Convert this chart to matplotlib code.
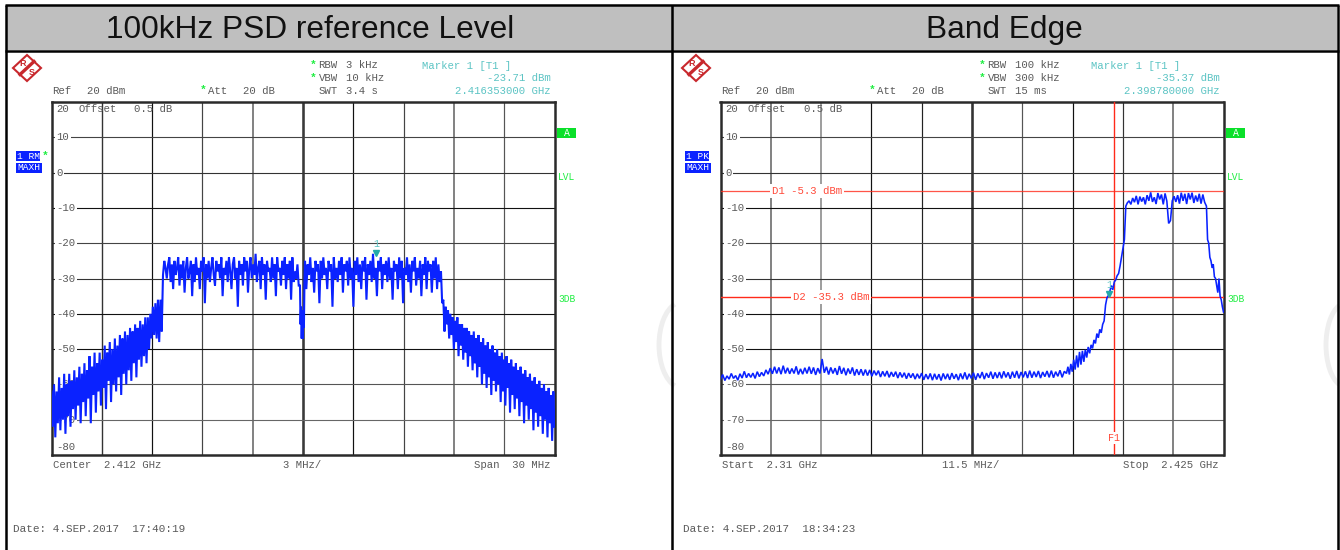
import numpy as np
import matplotlib
matplotlib.use("Agg")
import matplotlib.pyplot as plt
from matplotlib.patches import Arc, Polygon, Rectangle

MONO = ["Liberation Mono", "DejaVu Sans Mono"]
BLUE = "#0a22ff"
RED = "#ff2a1a"
TEAL = "#5cc4c4"
GREEN = "#22ee44"
GREY = "#5a5a5a"
FS = 7.7

# left panel, offset from centre in MHz; each piece alternates peak / trough
psd_bounds = [-15.0, -8.35, -0.18, 0.12, 8.23, 15.0]
psd_low = [
    -62, -72, -60, -75, -62, -71, -58, -73, -61, -70, -57, -74, -60, -69, -57, -72,
    -59, -67, -56, -70, -58, -66, -55, -71, -57, -65, -54, -69, -56, -64, -52, -71,
    -55, -63, -51, -68, -54, -62, -51, -66, -53, -61, -49, -67, -51, -59, -48, -65,
    -50, -60, -47, -62, -49, -58, -46, -63, -47, -57, -45, -60, -46, -56, -44, -59,
    -45, -54, -43, -58, -44, -53, -42, -55, -43, -52, -41, -54, -41, -50, -40, -47,
    -38, -46, -37, -47, -36, -48, -36, -45,
]
psd_band_a = [
    -29, -25, -27, -30, -26, -24, -31, -26, -33, -25, -29, -27,
    -24, -32, -26, -30, -25, -34, -27, -24, -30, -28, -25, -35, -26, -31, -24, -29,
    -27, -33, -25, -28, -24, -37, -26, -30, -25, -31, -27, -24, -29, -32, -25, -28,
    -26, -30, -24, -35, -27, -29, -25, -31, -24, -28, -33, -26, -24, -30, -27, -38,
    -25, -29, -26, -32, -24, -28, -25, -34, -27, -24, -30, -26, -29, -23, -31, -27,
    -25, -33, -24, -29, -26, -36, -25, -28, -27, -31, -24, -30, -26, -35, -24, -28,
    -27, -32, -25, -29, -24, -33, -26, -30, -25, -36, -24, -31, -28, -30, -26, -32,
]
psd_notch = [-32, -43, -38, -47, -41, -47, -39, -44, -31]
psd_band_b = [
    -25, -33, -26, -29, -24, -31, -27, -34, -25, -28, -26, -37, -25, -30, -24, -29,
    -27, -33, -25, -28, -26, -38, -24, -30, -27, -31, -25, -29, -24, -34, -26, -28,
    -25, -32, -24, -30, -27, -38, -25, -29, -24, -31, -26, -33, -25, -28, -24, -36,
    -26, -29, -25, -31, -23, -30, -27, -35, -25, -28, -24, -33, -26, -29, -25, -31,
    -24, -30, -27, -36, -25, -28, -26, -33, -24, -30, -25, -37, -27, -29, -24, -31,
    -26, -34, -25, -28, -24, -32, -27, -30, -25, -35, -26, -29, -24, -33, -25, -28,
    -26, -34, -25, -30, -24, -33, -26, -31,
]
psd_high = [
    -28, -37, -36, -45, -38, -43, -39, -47, -40, -46, -41, -50, -42, -48,
    -41, -52, -43, -49, -43, -53, -44, -51, -44, -55, -45, -52, -46, -56, -45, -54,
    -47, -58, -46, -55, -48, -60, -47, -57, -49, -61, -48, -58, -50, -63, -49, -59,
    -51, -62, -50, -60, -52, -65, -51, -62, -53, -66, -52, -61, -54, -68, -53, -63,
    -55, -67, -54, -64, -56, -69, -55, -65, -57, -71, -56, -66, -58, -70, -57, -67,
    -59, -73, -58, -68, -60, -72, -59, -69, -61, -74, -60, -70, -62, -75, -61, -71,
    -63, -76, -62, -72,
]

# right panel, frequency in GHz
edge_bounds = [2.31, 2.3891, 2.4030, 2.4211, 2.425]
edge_floor = [
    -58.6, -57.2, -58.9, -57.6, -58.5, -56.9, -58.3, -57.5, -58.8, -57.0, -58.2, -56.3,
    -58.1, -56.9, -58.0, -56.8, -58.3, -56.4, -57.8, -56.6, -57.6, -55.9, -57.1, -55.4,
    -57.0, -55.0, -56.9, -55.2, -57.1, -54.7, -56.9, -55.3, -57.0, -55.5, -56.9, -54.9,
    -57.2, -55.6, -57.1, -55.3, -56.9, -55.0, -57.0, -55.2, -57.3, -55.4, -56.9, -52.8,
    -56.7, -55.0, -57.2, -55.2,
    -56.9, -55.4, -57.3, -54.8, -57.0, -55.3, -57.4, -55.5, -57.0, -55.2, -57.5, -55.7,
    -57.3, -55.7, -57.5, -55.8, -57.5, -55.9, -57.7, -56.1, -57.4, -56.1, -57.9, -56.3,
    -57.7, -56.2, -58.0, -56.5, -57.8, -56.4, -58.2, -56.6, -58.0, -56.7, -58.4, -56.8,
    -58.1, -56.9, -58.5, -57.0, -58.3, -56.8, -58.7, -57.1, -58.5, -56.9, -58.8, -57.0,
    -58.6, -57.1, -58.9, -56.9, -58.5, -57.0, -58.7, -56.8, -58.4, -57.1, -58.8, -56.9,
    -58.5, -56.6, -58.6, -57.0, -58.3, -56.7, -58.7, -56.9, -58.2, -56.5, -58.5, -56.8,
    -58.1, -56.4, -58.4, -56.6, -58.2, -56.5, -58.3, -56.3, -58.0, -56.6, -58.4, -56.4,
    -58.1, -56.2, -58.3, -56.5, -58.0, -56.3, -58.2, -56.1, -58.1, -56.4, -57.9, -56.2,
    -58.2, -56.5, -57.8, -56.2, -58.0, -56.1, -58.1, -56.4, -57.7, -56.0, -58.0, -56.3,
]
edge_ramp = [
    -56.9, -55.0, -57.2, -54.2, -56.4, -53.0, -55.8, -51.8, -55.2, -50.8, -54.4, -50.5,
    -53.6, -50.2, -52.4, -49.4, -51.2, -48.8, -49.8, -47.4, -48.4, -45.6, -46.8, -44.4,
    -45.4, -43.0, -42.0, -37.5, -35.4, -34.8, -33.6, -32.0, -33.2, -31.0, -30.4, -29.2,
    -28.6, -26.5, -24.0, -21.5, -19.0, -9.5,
]
edge_top = [
    -8.6, -8.0, -9.0, -7.2, -8.4, -6.6, -9.0, -6.8, -8.2, -7.0, -9.0,
    -6.4, -8.0, -5.6, -8.3, -7.0, -8.9, -5.8, -7.6, -6.2, -9.0, -5.9, -8.1, -14.4,
    -13.6, -8.0, -6.7, -8.3, -6.4, -8.8, -5.7, -8.0, -6.0, -8.9, -5.8, -7.6,
    -5.7, -8.6, -6.5, -8.2, -6.0, -8.8, -6.2, -8.4,
]
edge_fall = [-9.5, -19.0, -20.0, -24.0, -25.0, -27.0, -26.0, -29.5, -30.0, -32.0, -34.0, -30.0,
             -35.0, -36.0, -38.0, -39.5]

tick_values = [10, 0, -10, -20, -30, -40, -50, -60, -70]
psd_marker = (4.353, -23.71)
edge_marker = (2.39878, -35.37)
edge_f1 = 2.4
edge_d1 = -5.3
edge_d2 = -35.3

# (colour, width) per division, they differ in the screenshot because of the downscale
psd_vgrid = [("#333333", 1.4), ("#111111", 1.2), ("#444444", 1.2), ("#777777", 1.8),
             ("#3a3a3a", 2.6), ("#111111", 1.2), ("#444444", 1.2), ("#777777", 1.8), ("#555555", 1.2)]
edge_vgrid = [("#666666", 1.6), ("#888888", 1.6), ("#111111", 1.2), ("#222222", 1.2),
              ("#333333", 2.6), ("#555555", 1.2), ("#111111", 1.2), ("#333333", 1.2), ("#777777", 1.8)]
hgrid = [("#444444", 1.1), ("#333333", 1.1), ("#111111", 1.1), ("#444444", 1.1), ("#333333", 1.1),
         ("#111111", 1.1), ("#111111", 1.1), ("#555555", 1.1), ("#666666", 1.1)]


def px_axes(fig, x0, y0, x1, y1, **kw):
    return fig.add_axes([x0 / 1340, 1 - y1 / 550, (x1 - x0) / 1340, (y1 - y0) / 550], **kw)


def label(bg, x, y, s, color=GREY, ha="left", size=FS):
    bg.text(x, y, s, color=color, ha=ha, va="center", family=MONO, fontsize=size)


def pieces(bounds, parts):
    xs = [np.linspace(bounds[i], bounds[i + 1], len(p), endpoint=i == len(parts) - 1) for i, p in enumerate(parts)]
    return np.concatenate(xs), np.concatenate(parts)


def draw_logo(bg, dx):
    cx, cy = 27 + dx, 68
    bg.add_patch(Polygon([(cx - 14, cy), (cx, cy - 13), (cx + 14, cy), (cx, cy + 13)],
                         closed=True, fc="white", ec="#c8282d", lw=1.5))
    bg.plot([cx - 7, cx + 7], [cy + 6.5, cy - 6.5], color="#c8282d", lw=2.4)
    bg.text(cx - 4, cy - 4.5, "R", color="#c8282d", fontsize=6.5, ha="center", va="center",
            family="Liberation Sans", weight="bold")
    bg.text(cx + 4.5, cy + 4.5, "S", color="#c8282d", fontsize=6.5, ha="center", va="center",
            family="Liberation Sans", weight="bold")


def header(bg, dx, title, title_x, rbw, vbw, swt, mkr_val, mkr_f, mode, star, bottom_l, bottom_m, mid_x, bottom_r, date):
    bg.text(title_x, 30, title, fontsize=22.8, ha="center", va="center", family="Liberation Sans", color="#111111")
    draw_logo(bg, dx)
    for y, name, val in [(65.3, "RBW", rbw), (78.3, "VBW", vbw), (91.3, "SWT", swt)]:
        label(bg, dx + 318.5, y, name)
        label(bg, dx + 346, y, val)
    label(bg, dx + 52, 91.3, "Ref")
    label(bg, dx + 87, 91.3, "20 dBm")
    label(bg, dx + 208, 91.3, "Att")
    label(bg, dx + 243, 91.3, "20 dB")
    for y, x in [(64.5, 313), (77.5, 313), (90, 203)]:
        bg.text(dx + x, y, "*", color=GREEN, fontsize=8, ha="center", va="center", family=MONO, weight="bold")
    label(bg, dx + 422, 66.3, "Marker 1 [T1 ]", TEAL)
    label(bg, dx + 551, 78.3, mkr_val, TEAL, ha="right")
    label(bg, dx + 551, 91.3, mkr_f, TEAL, ha="right")
    bg.add_patch(Rectangle((dx + 16, 151), 24, 10, fc="#0a22ff", ec="none"))
    bg.add_patch(Rectangle((dx + 16, 162.5), 25.5, 10.5, fc="#0a22ff", ec="none"))
    label(bg, dx + 17, 156.3, mode, "white", size=6.8)
    label(bg, dx + 17, 167.8, "MAXH", "white", size=6.8)
    if star:
        bg.text(dx + 45, 155.5, "*", color=GREEN, fontsize=8, ha="center", va="center", family=MONO, weight="bold")
    bg.add_patch(Rectangle((dx + 557, 128), 19, 10, fc="#0ae02a", ec="none"))
    label(bg, dx + 566.5, 133.3, "A", "white", ha="center", size=7)
    label(bg, dx + 558, 177.5, "LVL", GREEN, size=6.9)
    label(bg, dx + 558, 299.5, "3DB", GREEN, size=6.9)
    label(bg, dx + 53, 464.6, bottom_l)
    label(bg, dx + mid_x, 464.6, bottom_m)
    label(bg, dx + 550, 464.6, bottom_r, ha="right")
    label(bg, 13 + dx + (1 if dx else 0), 529, date, size=7.9)


def panel(fig, bg, x0, span, xs, ys, vgrid, marker, lw):
    ax = px_axes(fig, x0, 102, x0 + 503, 455)
    ax.set_xlim(*span)
    ax.set_ylim(-80, 20)
    ax.set_xticks([])
    ax.set_yticks([])
    for s in ax.spines.values():
        s.set_linewidth(1.8)
        s.set_color("#2a2a2a")
    step = (span[1] - span[0]) / 10
    for i, (c, w) in enumerate(vgrid):
        ax.axvline(span[0] + step * (i + 1), color=c, lw=w * 0.72, zorder=1)
    for v, (c, w) in zip(tick_values, hgrid):
        ax.axhline(v, color=c, lw=w * 0.72, zorder=1)
        ax.text(span[0] + step * 0.1, v, str(v), color=GREY, fontsize=FS, family=MONO, va="center", ha="left",
                zorder=2, bbox=dict(fc="white", ec="none", pad=1.0))
    for x, s in [(5, "20"), (27, "Offset"), (83, "0.5 dB")]:
        ax.text(x0 + x, 109.5, s, color=GREY, fontsize=FS, family=MONO, va="center", ha="left", zorder=3,
                transform=bg.transData)
    ax.text(x0 + 5, 447, "-80", color=GREY, fontsize=FS, family=MONO, va="center", ha="left", zorder=3,
            transform=bg.transData)
    ax.plot(xs, ys, color=BLUE, lw=lw, solid_joinstyle="miter", zorder=4)
    ax.plot([marker[0]], [marker[1] + 1.0], "v", color="#22aaaa", ms=4.8, zorder=6)
    ax.text(marker[0], marker[1] + 3.4, "1", color=TEAL, fontsize=7.2, family=MONO, ha="center", va="center", zorder=6)
    return ax


fig = plt.figure(figsize=(13.4, 5.5), dpi=100, facecolor="white")
bg = px_axes(fig, 0, 0, 1340, 550)
bg.set_xlim(0, 1340)
bg.set_ylim(550, 0)
bg.axis("off")

# faint stamp behind the screenshot
for x, y, w, h in [(-6, 330, 40, 80), (682, 345, 46, 86), (1346, 345, 40, 84)]:
    bg.add_patch(Arc((x, y), w, h, theta1=100, theta2=260, color="#eeeeee", lw=3.5, zorder=0))

bg.add_patch(Rectangle((6, 5), 1331, 45, fc="#bfbfbf", ec="none"))
header(bg, 0, "100kHz PSD reference Level", 310, "3 kHz", "10 kHz", "3.4 s", "-23.71 dBm", "2.416353000 GHz",
       "1 RM", True, "Center  2.412 GHz", "3 MHz/", 283, "Span  30 MHz", "Date: 4.SEP.2017  17:40:19")
header(bg, 669, "Band Edge", 1004, "100 kHz", "300 kHz", "15 ms", "-35.37 dBm", "2.398780000 GHz",
       "1 PK", False, "Start  2.31 GHz", "11.5 MHz/", 273, "Stop  2.425 GHz", "Date: 4.SEP.2017  18:34:23")

for x in (6, 671.5, 1337.5):
    bg.plot([x, x], [4.5, 550], color="black", lw=1.8, solid_capstyle="butt")
bg.plot([5, 1338.5], [5, 5], color="black", lw=1.8, solid_capstyle="butt")
bg.plot([5, 1338.5], [50.5, 50.5], color="black", lw=1.8, solid_capstyle="butt")

psd_x, psd_y = pieces(psd_bounds, [psd_low, psd_band_a, psd_notch, psd_band_b, psd_high])
edge_x, edge_y = pieces(edge_bounds, [edge_floor, edge_ramp, edge_top, edge_fall])

ax1 = panel(fig, bg, 51.5, (psd_bounds[0], psd_bounds[-1]), psd_x, psd_y, psd_vgrid, psd_marker, 1.5)
ax2 = panel(fig, bg, 720.5, (edge_bounds[0], edge_bounds[-1]), edge_x, edge_y, edge_vgrid, edge_marker, 1.15)

ax2.axhline(edge_d1, color=RED, lw=0.9, alpha=0.8, zorder=3)
ax2.axhline(edge_d2, color=RED, lw=1.0, zorder=3)
ax2.axvline(edge_f1, color=RED, lw=1.0, zorder=3)
ax2.text(2.3217, edge_d1, "D1 -5.3 dBm", color="#ff4a3a", fontsize=FS, family=MONO, va="center", ha="left",
         zorder=4, bbox=dict(fc="white", ec="none", pad=1.5))
ax2.text(2.3265, edge_d2, "D2 -35.3 dBm", color="#ff4a3a", fontsize=FS, family=MONO, va="center", ha="left",
         zorder=4, bbox=dict(fc="white", ec="none", pad=1.5))
ax2.text(edge_f1, -75.2, "F1", color="#ff4a3a", fontsize=7.2, family=MONO, va="center", ha="center", zorder=5,
         bbox=dict(fc="white", ec="none", pad=0.5))

fig.savefig("out.png", dpi=100)
print("saved out.png")
